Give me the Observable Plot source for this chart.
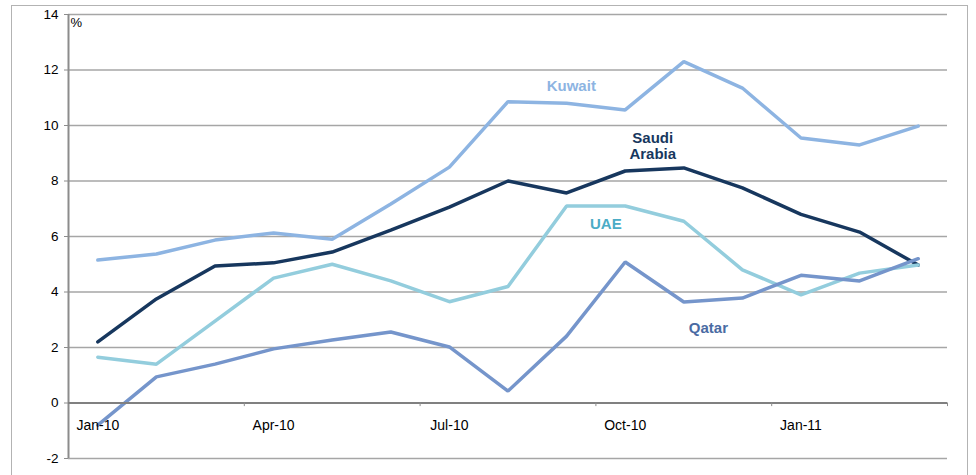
<!DOCTYPE html>
<html>
<head>
<meta charset="utf-8">
<script src="https://cdn.jsdelivr.net/npm/d3@7"></script>
<script src="https://cdn.jsdelivr.net/npm/@observablehq/plot@0.6"></script>
<style>
  html, body { margin: 0; padding: 0; background: #fff; }
  #wrap { position: relative; width: 976px; height: 475px; overflow: hidden; }
  #border { position: absolute; left: 11px; top: 5px; width: 957px; height: 490px; border: 1px solid #b3b3b3; box-sizing: border-box; pointer-events: none; }
  svg { font-family: "Liberation Sans", Arial, sans-serif; }
</style>
</head>
<body>
<div id="wrap"><div id="border"></div></div>
<script>
const months = ["Jan-10","Feb-10","Mar-10","Apr-10","May-10","Jun-10","Jul-10","Aug-10","Sep-10","Oct-10","Nov-10","Dec-10","Jan-11","Feb-11","Mar-11"];
const kuwait = [5.15, 5.37, 5.87, 6.13, 5.9, 7.17, 8.5, 10.86, 10.8, 10.56, 12.3, 11.35, 9.55, 9.3, 9.98];
const saudi  = [2.2, 3.75, 4.94, 5.05, 5.44, 6.23, 7.06, 8.0, 7.57, 8.36, 8.47, 7.75, 6.8, 6.16, 4.97];
const uae    = [1.65, 1.4, 2.95, 4.5, 5.0, 4.4, 3.65, 4.2, 7.1, 7.1, 6.55, 4.8, 3.9, 4.68, 4.97];
const qatar  = [-0.8, 0.94, 1.4, 1.95, 2.27, 2.56, 2.02, 0.43, 2.41, 5.08, 3.64, 3.78, 4.6, 4.4, 5.2];
const yTicks = [-2, 0, 2, 4, 6, 8, 10, 12, 14];
const xTickIdx = [0, 3, 6, 9, 12];
const boundaryIdx = [2.5, 5.5, 8.5, 11.5, 14.5];

const seriesNames = ["Kuwait", "Saudi Arabia", "UAE", "Qatar"];
const seriesValues = [kuwait, saudi, uae, qatar];
const lineColors = {"Kuwait": "#8DB4E2", "Saudi Arabia": "#17375E", "UAE": "#93CDDD", "Qatar": "#7595CB"};
const labelColors = {"Kuwait": "#8DB4E2", "Saudi Arabia": "#17375E", "UAE": "#4BACC6", "Qatar": "#4A6BA3"};
const labels = [
  {name: "Kuwait", text: "Kuwait", x: 8.08, y: 11.42},
  {name: "Saudi Arabia", text: "Saudi\nArabia", x: 9.47, y: 9.26},
  {name: "UAE", text: "UAE", x: 8.67, y: 6.45},
  {name: "Qatar", text: "Qatar", x: 10.42, y: 2.70}
];

const rows = [];
seriesNames.forEach((s, k) => seriesValues[k].forEach((v, i) => rows.push({series: s, i, v})));

const chart = Plot.plot({
  width: 976,
  height: 475,
  marginLeft: 68,
  marginRight: 29,
  marginTop: 14,
  marginBottom: 17,
  style: {fontFamily: "Liberation Sans, Arial, sans-serif", fontSize: "13px", color: "#000", background: "transparent"},
  x: {type: "linear", domain: [-0.5, 14.5], axis: null},
  y: {domain: [-2, 14], axis: null},
  marks: [
    Plot.ruleY(yTicks.filter(d => d !== 0), {stroke: "#a6a6a6", strokeWidth: 1.5}),
    Plot.ruleX([-0.5], {y1: -2, y2: 14, stroke: "#8c8c8c", strokeWidth: 2}),
    Plot.axisY({ticks: yTicks, tickSize: 4, tickPadding: 6, stroke: "#8c8c8c", fontSize: 13.5, tickFormat: d => String(d)}),
    Plot.line(rows, {x: "i", y: "v", z: "series", stroke: d => lineColors[d.series], strokeWidth: 3.5, strokeLinejoin: "miter", curve: "linear"}),
    Plot.ruleY([0], {stroke: "#808080", strokeWidth: 2}),
    Plot.ruleX(boundaryIdx, {y1: 0, y2: -0.13, stroke: "#8c8c8c", strokeWidth: 1}),
    Plot.text(xTickIdx, {x: d => d, y: 0, text: d => months[d], dy: 23, fontSize: 14, fill: "#000"}),
    Plot.text(labels, {x: "x", y: "y", text: "text", fill: d => labelColors[d.name], fontWeight: "bold", fontSize: 15, lineHeight: 1.08}),
    Plot.text(["%"], {x: -0.5, y: 14, text: d => d, textAnchor: "start", dx: 2, dy: 8, fontSize: 13, fill: "#000"})
  ]
});
document.getElementById("wrap").prepend(chart);
</script>
</body>
</html>
